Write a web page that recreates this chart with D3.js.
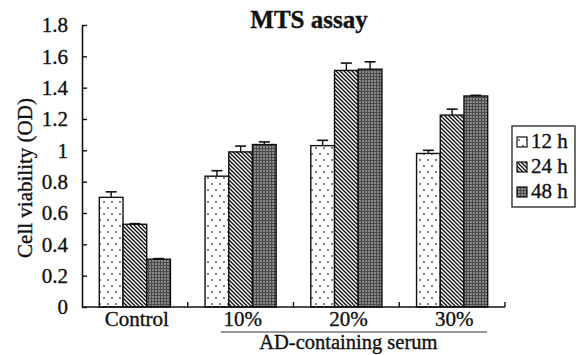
<!DOCTYPE html>
<html>
<head>
<meta charset="utf-8">
<script src="https://cdn.jsdelivr.net/npm/d3@7"></script>
<style>
  body { margin: 0; background: #fff; }
  svg text { font-family: "Liberation Serif", "Times New Roman", serif; fill: #111; stroke: #111; stroke-width: 0.35px; }
</style>
</head>
<body>
<div id="chart"></div>
<script>
// data
const groups = ["Control", "10%", "20%", "30%"];
const series = ["12 h", "24 h", "48 h"];
const values12 = [0.70, 0.835, 1.03, 0.98];
const values24 = [0.528, 0.99, 1.51, 1.225];
const values48 = [0.305, 1.037, 1.518, 1.347];
const errors12 = [0.035, 0.035, 0.034, 0.02];
const errors24 = [0.004, 0.037, 0.047, 0.038];
const errors48 = [0.004, 0.017, 0.047, 0.004];
const yTicks = [0, 0.2, 0.4, 0.6, 0.8, 1, 1.2, 1.4, 1.6, 1.8];

const allValues = [values12, values24, values48];
const allErrors = [errors12, errors24, errors48];
const rows = [];
groups.forEach((g, gi) => {
  series.forEach((s, si) => {
    rows.push({ group: g, series: s, value: allValues[si][gi], err: allErrors[si][gi] });
  });
});

const W = 579, H = 355;
const margin = { top: 25, right: 74, bottom: 48, left: 82 };
const width = W - margin.left - margin.right;
const height = H - margin.top - margin.bottom;

const svg = d3.select("#chart").append("svg")
  .attr("width", W)
  .attr("height", H);

// fill patterns
const defs = svg.append("defs");
const dots = defs.append("pattern").attr("id", "p12")
  .attr("patternUnits", "userSpaceOnUse").attr("width", 8).attr("height", 12);
dots.append("rect").attr("width", 8).attr("height", 12).attr("fill", "#fff");
dots.append("circle").attr("cx", 2).attr("cy", 3).attr("r", 0.9).attr("fill", "#444");
dots.append("circle").attr("cx", 6).attr("cy", 9).attr("r", 0.9).attr("fill", "#444");

const hatch = defs.append("pattern").attr("id", "p24")
  .attr("patternUnits", "userSpaceOnUse").attr("width", 4).attr("height", 4);
hatch.append("rect").attr("width", 4).attr("height", 4).attr("fill", "#fff");
hatch.append("path").attr("d", "M-1,-1 L5,5 M-1,3 L1,5 M3,-1 L5,1")
  .attr("stroke", "#111").attr("stroke-width", 1.4);

const grid = defs.append("pattern").attr("id", "p48")
  .attr("patternUnits", "userSpaceOnUse").attr("width", 3).attr("height", 3);
grid.append("rect").attr("width", 3).attr("height", 3).attr("fill", "#8a8a8a");
grid.append("path").attr("d", "M0,0.5 H3 M0.5,0 V3")
  .attr("stroke", "#4a4a4a").attr("stroke-width", 1);

const fills = { "12 h": "url(#p12)", "24 h": "url(#p24)", "48 h": "url(#p48)" };

const g = svg.append("g").attr("transform", `translate(${margin.left},${margin.top})`);

const x0 = d3.scaleBand().domain(groups).range([0, width]).padding(0);
const x1 = d3.scaleBand().domain(series).range([0, x0.bandwidth()]).paddingOuter(0.73).paddingInner(0);
const y = d3.scaleLinear().domain([0, 1.8]).range([height, 0]);

// bars
g.selectAll("rect.bar")
  .data(rows)
  .enter()
  .append("rect")
  .attr("class", "bar")
  .attr("x", d => x0(d.group) + x1(d.series))
  .attr("y", d => y(d.value))
  .attr("width", x1.bandwidth())
  .attr("height", d => y(0) - y(d.value))
  .attr("fill", d => fills[d.series])
  .attr("stroke", "#111")
  .attr("stroke-width", 1.4);

// error bars (upper only)
const eb = g.selectAll("g.err")
  .data(rows)
  .enter()
  .append("g")
  .attr("class", "err")
  .attr("transform", d => `translate(${x0(d.group) + x1(d.series) + x1.bandwidth() / 2},0)`);
eb.append("line")
  .attr("y1", d => y(d.value)).attr("y2", d => y(d.value + d.err))
  .attr("stroke", "#111").attr("stroke-width", 1.4);
eb.append("line")
  .attr("x1", -5.5).attr("x2", 5.5)
  .attr("y1", d => y(d.value + d.err)).attr("y2", d => y(d.value + d.err))
  .attr("stroke", "#111").attr("stroke-width", 1.6);

// y axis
const yAxis = g.append("g")
  .call(d3.axisLeft(y).tickValues(yTicks).tickFormat(d => d3.format("")(+d.toFixed(1)))
    .tickSizeInner(-5).tickSizeOuter(0).tickPadding(14));
yAxis.select(".domain").attr("stroke", "#111").attr("stroke-width", 1.6);
yAxis.selectAll(".tick line").attr("stroke", "#111").attr("stroke-width", 1.4);
yAxis.selectAll(".tick text")
  .style("font-family", "'Liberation Serif', serif")
  .style("font-size", "21px").attr("fill", "#111");

// x axis with inward ticks at band edges
const xAxis = g.append("g").attr("transform", `translate(0,${height})`);
xAxis.append("line").attr("x1", 0).attr("x2", width)
  .attr("stroke", "#111").attr("stroke-width", 1.6);
xAxis.selectAll("line.edge")
  .data(groups.slice(1).concat(["end"]))
  .enter()
  .append("line")
  .attr("class", "edge")
  .attr("x1", d => d === "end" ? width : x0(d))
  .attr("x2", d => d === "end" ? width : x0(d))
  .attr("y1", 0).attr("y2", -5)
  .attr("stroke", "#111").attr("stroke-width", 1.4);
xAxis.selectAll("text.cat")
  .data(groups)
  .enter()
  .append("text")
  .attr("class", "cat")
  .attr("x", d => x0(d) + x0.bandwidth() / 2 + 2)
  .attr("y", 19)
  .attr("text-anchor", "middle")
  .style("font-size", "21px")
  .text(d => d);

// group bracket for serum concentrations
const serumGroups = groups.slice(1);
xAxis.append("line")
  .attr("x1", x0(serumGroups[0]) + 33)
  .attr("x2", x0(serumGroups[2]) + x0.bandwidth() - 18)
  .attr("y1", 25).attr("y2", 25)
  .attr("stroke", "#777").attr("stroke-width", 1.5);
xAxis.append("text")
  .attr("x", (x0(serumGroups[0]) + x0(serumGroups[2]) + x0.bandwidth()) / 2 + 2)
  .attr("y", 42)
  .attr("text-anchor", "middle")
  .style("font-size", "20.5px")
  .text("AD-containing serum");

// y label
svg.append("text")
  .attr("transform", "rotate(-90)")
  .attr("x", -178)
  .attr("y", 32)
  .attr("text-anchor", "middle")
  .style("font-size", "21px")
  .text("Cell viability (OD)");

// title
svg.append("text")
  .attr("x", 309)
  .attr("y", 28)
  .attr("text-anchor", "middle")
  .style("font-size", "25px")
  .style("font-weight", "bold")
  .text("MTS assay");

// legend
const legend = svg.append("g").attr("transform", "translate(512,126)");
legend.append("rect")
  .attr("width", 63).attr("height", 81)
  .attr("fill", "#fff").attr("stroke", "#222").attr("stroke-width", 1.3);
const li = legend.selectAll("g.item")
  .data(series)
  .enter()
  .append("g")
  .attr("class", "item")
  .attr("transform", (d, i) => `translate(5,${11 + i * 25})`);
li.append("rect")
  .attr("width", 10).attr("height", 10)
  .attr("fill", d => fills[d])
  .attr("stroke", "#111").attr("stroke-width", 1.2);
li.append("text")
  .attr("x", 14).attr("y", 11)
  .style("font-size", "21px")
  .text(d => d);
</script>
</body>
</html>
